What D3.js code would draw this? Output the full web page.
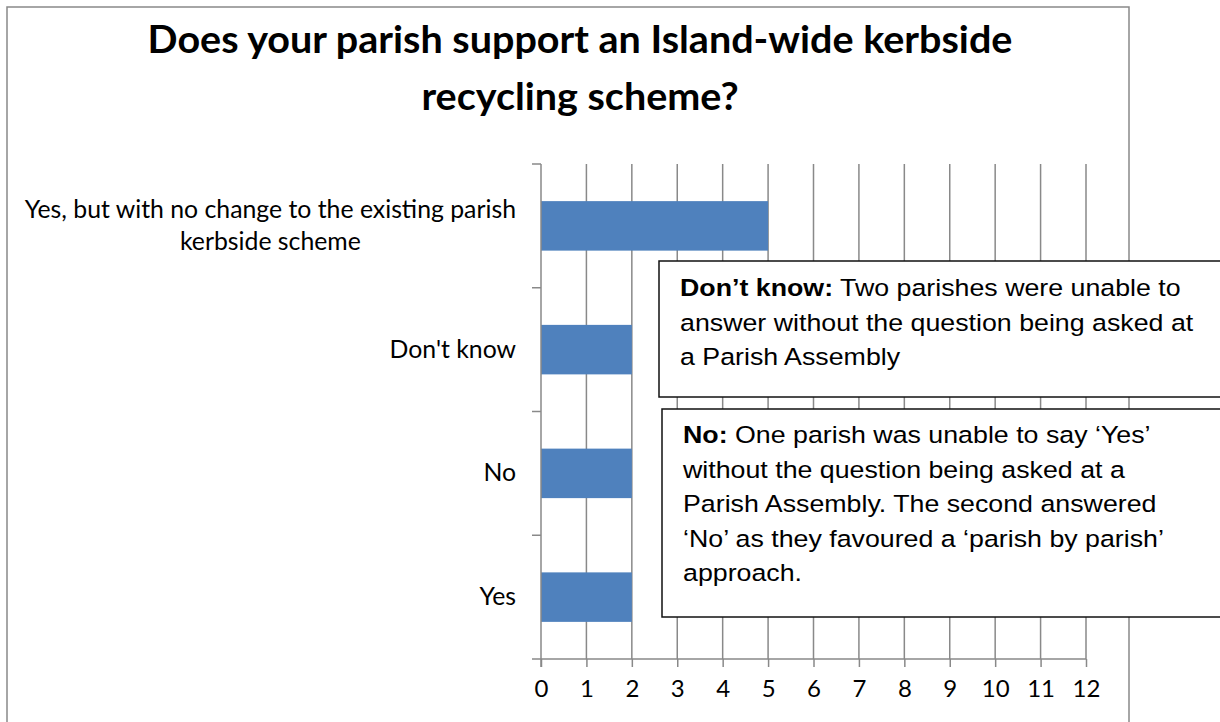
<!DOCTYPE html>
<html>
<head>
<meta charset="utf-8">
<script src="https://cdn.jsdelivr.net/npm/d3@7"></script>
<style>
  html, body { margin: 0; padding: 0; background: #fff; }
  svg { display: block; }
</style>
</head>
<body>
<svg id="chart" width="1220" height="722"></svg>
<script>
"use strict";

// data, top to bottom as drawn
var categories = ["Yes, but with no change to the existing parish kerbside scheme", "Don't know", "No", "Yes"];
var categoryLines = [["Yes, but with no change to the existing parish", "kerbside scheme"], ["Don't know"], ["No"], ["Yes"]];
var values = [5, 2, 2, 2];
var xTicks = [0, 1, 2, 3, 4, 5, 6, 7, 8, 9, 10, 11, 12];
var titleLines = ["Does your parish support an Island-wide kerbside", "recycling scheme?"];

var noteDontKnowBold = "Don\u2019t know:";
var noteDontKnowLines = [" Two parishes were unable to", "answer without the question being asked at", "a Parish Assembly"];
var noteNoBold = "No:";
var noteNoLines = [" One parish was unable to say \u2018Yes\u2019", "without the question being asked at a", "Parish Assembly. The second answered", "\u2018No\u2019 as they favoured a \u2018parish by parish\u2019", "approach."];

var svg = d3.select("#chart");
var gridColor = "#898989";
var calibri = "Lato, 'Open Sans', sans-serif";
var arial = "'Liberation Sans', Arial, sans-serif";

var plot = { left: 541, right: 1086, top: 164, bottom: 659 };

var x = d3.scaleLinear().domain([0, 12]).range([plot.left, plot.right]);
var y = d3.scaleBand().domain(categories).range([plot.top, plot.bottom]).padding(0);
var barH = y.bandwidth() * 0.4;

// outer chart frame (bottom runs off the picture)
svg.append("rect")
  .attr("x", 7).attr("y", 7)
  .attr("width", 1122).attr("height", 740)
  .attr("fill", "#fff")
  .attr("stroke", gridColor)
  .attr("stroke-width", 1.5);

// title
var title_g = svg.append("g")
  .attr("transform", "translate(580,0) scale(1.04,1)");
title_g.selectAll("text")
  .data(titleLines)
  .enter()
  .append("text")
  .attr("x", 0)
  .attr("y", function(d, i) { return 53 + i * 57; })
  .attr("text-anchor", "middle")
  .attr("font-family", calibri)
  .attr("font-weight", "bold")
  .attr("font-size", 38)
  .attr("fill", "#000")
  .text(function(d) { return d; });

// vertical gridlines
svg.append("g")
  .selectAll("line")
  .data(xTicks.slice(1))
  .enter()
  .append("line")
  .attr("x1", function(d) { return x(d); })
  .attr("x2", function(d) { return x(d); })
  .attr("y1", plot.top)
  .attr("y2", plot.bottom)
  .attr("stroke", gridColor)
  .attr("stroke-width", 1.5);

// bars
svg.append("g")
  .selectAll("rect")
  .data(categories)
  .enter()
  .append("rect")
  .attr("x", x(0))
  .attr("y", function(d) { return y(d) + (y.bandwidth() - barH) / 2; })
  .attr("width", function(d, i) { return x(values[i]) - x(0); })
  .attr("height", barH)
  .attr("fill", "#4f81bd");

// x axis
var xAxis = d3.axisBottom(x).tickValues(xTicks).tickSize(8).tickPadding(13).tickSizeOuter(0);
var xAxis_g = svg.append("g")
  .attr("transform", "translate(0," + plot.bottom + ")")
  .call(xAxis);
xAxis_g.select(".domain").remove();
xAxis_g.append("line")
  .attr("x1", plot.left - 9).attr("x2", plot.right)
  .attr("y1", 0).attr("y2", 0)
  .attr("stroke", gridColor).attr("stroke-width", 1.5);
xAxis_g.selectAll(".tick line").attr("stroke", gridColor).attr("stroke-width", 1.5);
xAxis_g.selectAll(".tick text")
  .attr("font-family", calibri)
  .attr("font-size", 24)
  .attr("fill", "#000");

// y axis: line plus ticks at band edges
var yAxis_g = svg.append("g");
yAxis_g.append("line")
  .attr("x1", plot.left).attr("x2", plot.left)
  .attr("y1", plot.top).attr("y2", plot.bottom + 8)
  .attr("stroke", gridColor).attr("stroke-width", 1.5);
yAxis_g.selectAll(".ytick")
  .data(categories)
  .enter()
  .append("line")
  .attr("class", "ytick")
  .attr("x1", plot.left - 9).attr("x2", plot.left)
  .attr("y1", function(d) { return y(d); })
  .attr("y2", function(d) { return y(d); })
  .attr("stroke", gridColor).attr("stroke-width", 1.5);

// category labels, block right aligned, lines centred in block
var labelRight = 516;
var label_g = yAxis_g.selectAll(".ylabel")
  .data(categories)
  .enter()
  .append("text")
  .attr("class", "ylabel")
  .attr("font-family", calibri)
  .attr("font-size", 24.8)
  .attr("fill", "#000")
  .attr("text-anchor", "middle");

label_g.each(function(d, i) {
  var text = d3.select(this);
  var lines = categoryLines[i];
  var lineH = 32;
  var cy = y(d) + y.bandwidth() / 2;
  var startY = cy - (lines.length - 1) * lineH / 2 + 8;
  lines.forEach(function(line, j) {
    text.append("tspan").attr("y", startY + j * lineH).text(line);
  });
  var widest = d3.max(text.selectAll("tspan").nodes(), function(n) { return n.getComputedTextLength(); });
  text.selectAll("tspan").attr("x", labelRight - widest / 2);
});

// annotation boxes
function drawNote(box, bold, lines) {
  var note_g = svg.append("g");
  note_g.append("rect")
    .attr("x", box.x).attr("y", box.y)
    .attr("width", box.w).attr("height", box.h)
    .attr("fill", "#fff")
    .attr("stroke", "#111")
    .attr("stroke-width", 1.5);

  var text_g = note_g.append("g")
    .attr("transform", "translate(" + box.textX + "," + box.textY + ") scale(1.13,1)");

  var text = text_g.selectAll("text")
    .data(lines)
    .enter()
    .append("text")
    .attr("x", 0)
    .attr("y", function(d, i) { return i * 34.6; })
    .attr("font-family", arial)
    .attr("font-size", 23.7)
    .attr("fill", "#000");

  text.each(function(d, i) {
    var t = d3.select(this);
    if (i === 0) {
      t.append("tspan").attr("font-weight", "bold").text(bold);
    }
    t.append("tspan").style("white-space", "pre").text(d);
  });
}

drawNote({ x: 659, y: 261, w: 600, h: 136, textX: 680, textY: 296 }, noteDontKnowBold, noteDontKnowLines);
drawNote({ x: 662, y: 409, w: 600, h: 208, textX: 683, textY: 443 }, noteNoBold, noteNoLines);
</script>
</body>
</html>
